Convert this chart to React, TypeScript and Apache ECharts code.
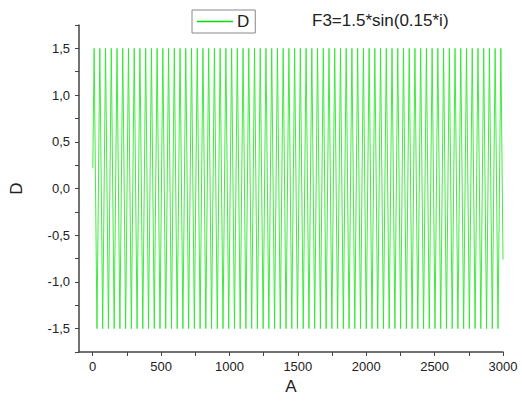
import React, { useEffect, useRef } from "react";
import * as echarts from "echarts";

// Values: the trace of D against A oscillates between
// crests near +1.5 and troughs near -1.5.
const startPoint: [number, number] = [1, 0.22];
const endPoint: [number, number] = [3000, -0.76];
const crestD = 1.5;
const troughD = -1.5;
const crestA = [
  10.5, 52.4, 94.2, 136.1, 178.0, 219.9, 261.8, 303.7, 345.6, 387.5, 429.4, 471.2,
  513.1, 555.0, 596.9, 638.8, 680.7, 722.6, 764.5, 806.3, 848.2, 890.1, 932.0, 973.9,
  1015.8, 1057.7, 1099.6, 1141.4, 1183.3, 1225.2, 1267.1, 1309.0, 1350.9, 1392.8,
  1434.7, 1476.6, 1518.4, 1560.3, 1602.2, 1644.1, 1686.0, 1727.9, 1769.8, 1811.7,
  1853.5, 1895.4, 1937.3, 1979.2, 2021.1, 2063.0, 2104.9, 2146.8, 2188.6, 2230.5,
  2272.4, 2314.3, 2356.2, 2398.1, 2440.0, 2481.9, 2523.7, 2565.6, 2607.5, 2649.4,
  2691.3, 2733.2, 2775.1, 2817.0, 2858.8, 2900.7, 2942.6, 2984.5,
];
const troughA = [
  31.4, 73.3, 115.2, 157.1, 199.0, 240.9, 282.7, 324.6, 366.5, 408.4, 450.3, 492.2,
  534.1, 576.0, 617.8, 659.7, 701.6, 743.5, 785.4, 827.3, 869.2, 911.1, 953.0, 994.8,
  1036.7, 1078.6, 1120.5, 1162.4, 1204.3, 1246.2, 1288.1, 1329.9, 1371.8, 1413.7,
  1455.6, 1497.5, 1539.4, 1581.3, 1623.2, 1665.0, 1706.9, 1748.8, 1790.7, 1832.6,
  1874.5, 1916.4, 1958.3, 2000.1, 2042.0, 2083.9, 2125.8, 2167.7, 2209.6, 2251.5,
  2293.4, 2335.3, 2377.1, 2419.0, 2460.9, 2502.8, 2544.7, 2586.6, 2628.5, 2670.4,
  2712.2, 2754.1, 2796.0, 2837.9, 2879.8, 2921.7, 2963.6,
];

const xTicks = [0, 250, 500, 750, 1000, 1250, 1500, 1750, 2000, 2250, 2500, 2750, 3000];
const xTickLabels = [0, 500, 1000, 1500, 2000, 2500, 3000];
const yTicks = [-1.75, -1.5, -1.25, -1, -0.75, -0.5, -0.25, 0, 0.25, 0.5, 0.75, 1, 1.25, 1.5, 1.75];
const yTickLabels = [-1.5, -1, -0.5, 0, 0.5, 1, 1.5];

const FONT = "'Liberation Sans', Arial, sans-serif";
const GREEN = "#2ee82e";

export default function App() {
  const ref = useRef<HTMLDivElement>(null);
  useEffect(() => {
    if (!ref.current) return;
    const chart = echarts.init(ref.current, undefined, { renderer: "svg" });
    const pts: [number, number][] = [startPoint];
    crestA.forEach((a) => pts.push([a, crestD]));
    troughA.forEach((a) => pts.push([a, troughD]));
    pts.push(endPoint);
    pts.sort((p, q) => p[0] - q[0]);

    chart.setOption({
      animation: false,
      backgroundColor: "#ffffff",
      textStyle: { fontFamily: FONT },
      title: {
        text: "F3=1.5*sin(0.15*i)",
        left: 312,
        top: 12,
        padding: 0,
        textStyle: { fontSize: 17, fontWeight: "normal", color: "#222", fontFamily: FONT },
      },
      legend: {
        left: 192,
        top: 10,
        padding: [3, 6, 3, 4],
        borderColor: "#888",
        borderWidth: 1,
        icon: "none",
        itemWidth: 36,
        itemHeight: 14,
        itemGap: 4,
        textStyle: { fontSize: 17, color: "#222", fontFamily: FONT, lineHeight: 17 },
        data: [{ name: "D", icon: "none" }],
      },
      graphic: [
        {
          type: "line",
          silent: true,
          z: 100,
          shape: { x1: 197, y1: 21.5, x2: 233, y2: 21.5 },
          style: { stroke: "#00dd00", lineWidth: 1.4 },
        },
      ],
      grid: { left: 79, right: 19, top: 25, bottom: 53, containLabel: false },
      xAxis: {
        type: "value",
        min: -100,
        max: 3000,
        name: "A",
        nameLocation: "middle",
        nameGap: 26,
        nameTextStyle: { fontSize: 17, color: "#222", fontFamily: FONT },
        axisLine: { show: true, onZero: false, lineStyle: { color: "#444", width: 1.5 } },
        axisTick: { show: true, length: 4, customValues: xTicks, lineStyle: { color: "#444", width: 1 } },
        axisLabel: {
          customValues: xTickLabels,
          fontSize: 13,
          color: "#222",
          margin: 8,
          fontFamily: FONT,
          formatter: (v: number) => String(v),
        },
        splitLine: { show: false },
      },
      yAxis: {
        type: "value",
        min: -1.75,
        max: 1.75,
        name: "D",
        nameLocation: "middle",
        nameGap: 54,
        nameTextStyle: { fontSize: 17, color: "#222", fontFamily: FONT },
        axisLine: { show: true, onZero: false, lineStyle: { color: "#444", width: 1.5 } },
        axisTick: { show: true, length: 4, customValues: yTicks, lineStyle: { color: "#444", width: 1 } },
        axisLabel: {
          customValues: yTickLabels,
          fontSize: 13,
          color: "#222",
          margin: 9,
          fontFamily: FONT,
          formatter: (v: number) => v.toFixed(1).replace(".", ","),
        },
        splitLine: { show: false },
      },
      series: [
        {
          name: "D",
          type: "line",
          data: pts,
          symbol: "none",
          lineStyle: { color: GREEN, width: 0.9 },
          itemStyle: { color: GREEN },
        },
      ],
    });
    return () => chart.dispose();
  }, []);
  return <div ref={ref} style={{ position: "fixed", left: 0, top: 0, width: 522, height: 405 }} />;
}
